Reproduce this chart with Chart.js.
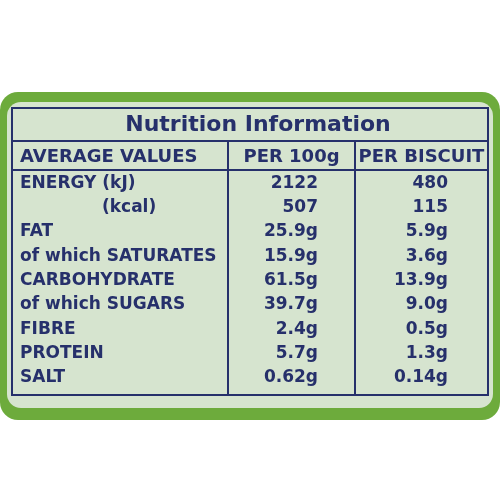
<!DOCTYPE html>
<html><head><meta charset="utf-8">
<script src="https://cdn.jsdelivr.net/npm/chart.js@4"></script>
<style>html,body{margin:0;padding:0;background:#fff}#c{display:block}</style>
</head><body>
<canvas id="c" width="500" height="500"></canvas>
<script>
const title = "Nutrition Information";
const headers = ["AVERAGE VALUES", "PER 100g", "PER BISCUIT"];
const rows = ["ENERGY (kJ)", "(kcal)", "FAT", "of which SATURATES", "CARBOHYDRATE", "of which SUGARS", "FIBRE", "PROTEIN", "SALT"];
const per100g = ["2122", "507", "25.9g", "15.9g", "61.5g", "39.7g", "2.4g", "5.7g", "0.62g"];
const perBiscuit = ["480", "115", "5.9g", "3.6g", "13.9g", "9.0g", "0.5g", "1.3g", "0.14g"];

const NAVY = "#26306b";
function rr(ctx,x,y,w,h,r){ctx.beginPath();ctx.moveTo(x+r,y);ctx.arcTo(x+w,y,x+w,y+h,r);ctx.arcTo(x+w,y+h,x,y+h,r);ctx.arcTo(x,y+h,x,y,r);ctx.arcTo(x,y,x+w,y,r);ctx.closePath();}

const bg = {id:'bg', beforeDraw(chart){
  const ctx = chart.ctx;
  ctx.save();
  ctx.fillStyle = "#ffffff"; ctx.fillRect(0,0,500,500);
  ctx.fillStyle = "#6dab3c"; rr(ctx,0,92,500,328,18); ctx.fill();
  ctx.fillStyle = "#d6e4cf"; rr(ctx,7,102,486,306,14); ctx.fill();
  ctx.restore();
}};

const table = {id:'table', afterDraw(chart){
  const ctx = chart.ctx, y = chart.scales.y, a = chart.chartArea;
  const L = a.left, R = a.right, c1 = 228, c2 = 355;
  const top = 108, tBot = 141, hBot = 170, bot = 395;
  ctx.save();
  ctx.strokeStyle = NAVY; ctx.lineWidth = 2;
  ctx.strokeRect(L, top, R-L, bot-top);
  ctx.beginPath();
  ctx.moveTo(L,tBot); ctx.lineTo(R,tBot);
  ctx.moveTo(L,hBot); ctx.lineTo(R,hBot);
  ctx.moveTo(c1,tBot); ctx.lineTo(c1,bot);
  ctx.moveTo(c2,tBot); ctx.lineTo(c2,bot);
  ctx.stroke();
  ctx.fillStyle = NAVY; ctx.textBaseline = "middle";
  ctx.font = "bold 22px 'DejaVu Sans'"; ctx.textAlign = "center";
  ctx.fillText(title, 258, 125);
  ctx.font = "bold 18px 'DejaVu Sans'";
  ctx.textAlign = "left"; ctx.fillText(headers[0], 20, 157);
  ctx.textAlign = "center"; ctx.fillText(headers[1], (c1+c2)/2, 157);
  ctx.fillText(headers[2], (c2+R)/2, 157);
  ctx.font = "bold 17px 'DejaVu Sans'";
  rows.forEach((r,i)=>{
    const py = y.getPixelForValue(i);
    ctx.textAlign = "left";
    ctx.fillText(r, i===1 ? 102 : 20, py);
    ctx.textAlign = "right";
    ctx.fillText(per100g[i], 318, py);
    ctx.fillText(perBiscuit[i], 448, py);
  });
  ctx.restore();
}};

new Chart(document.getElementById('c'), {
  type: 'bar',
  data: { labels: rows, datasets: [{ data: rows.map(()=>0), backgroundColor: 'rgba(0,0,0,0)' }] },
  options: {
    indexAxis: 'y', responsive: false, animation: false,
    layout: { padding: { left: 12, right: 12, top: 171, bottom: 110 } },
    plugins: { legend: { display: false }, tooltip: { enabled: false } },
    scales: { y: { display: false }, x: { display: false, min: 0, max: 1 } }
  },
  plugins: [bg, table]
});
</script>
</body></html>
